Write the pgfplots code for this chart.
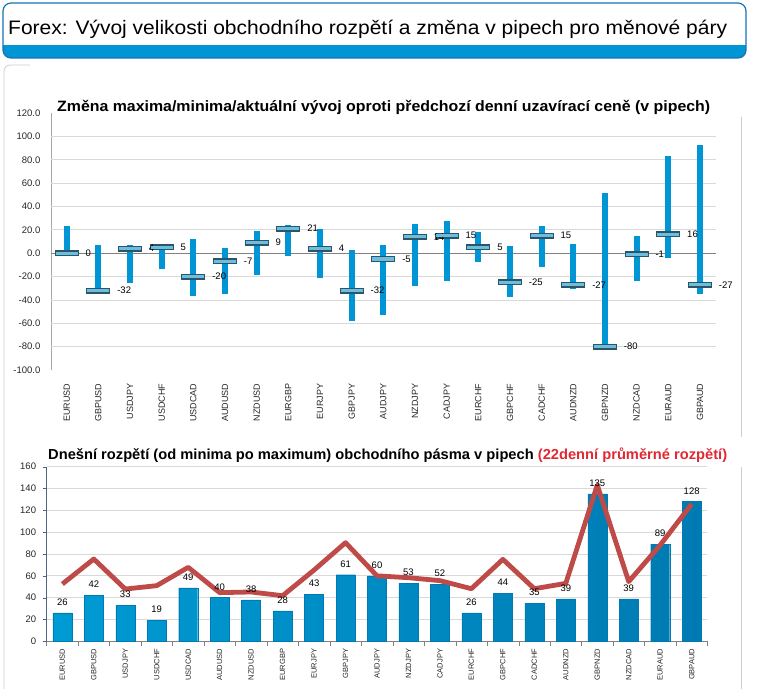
\documentclass[border=0pt]{standalone}
\usepackage{pgfplots}
\pgfplotsset{compat=1.18}
\usepackage{pgfplotstable}
\usepackage{fontspec}
\setmainfont{Liberation Sans}

\definecolor{hdrblue}{RGB}{0,150,214}
\definecolor{hdrline}{RGB}{20,115,180}
\definecolor{rangeblue}{RGB}{0,150,214}
\definecolor{markdark}{RGB}{45,85,100}
\definecolor{marklight}{RGB}{105,190,225}
\definecolor{barL}{RGB}{0,155,212}
\definecolor{barM}{RGB}{35,188,236}
\definecolor{barR}{RGB}{0,122,178}
\definecolor{avgred}{RGB}{190,75,72}
\definecolor{titlered}{RGB}{225,40,50}
\definecolor{gridgray}{RGB}{217,217,217}
\definecolor{zerogray}{RGB}{130,130,130}
\definecolor{framegray}{RGB}{205,205,205}
\definecolor{yaxisblue}{RGB}{80,100,130}

% squeeze a line of text to a given width, font size unchanged
\newsavebox\fitbox
\newdimen\fitw
\newcommand\fitto[2]{\sbox\fitbox{#2}\fitw=\wd\fitbox
  \pgfmathsetmacro\fitsx{#1/\fitw}\scalebox{\fitsx}[1]{\usebox\fitbox}}

% high / low against the previous close, and the current change (pips)
\pgfplotstableread{
x high low cur
0 23.1 -2.8 0
1 7.0 -35.2 -32
2 7.0 -25.9 4
3 6.0 -13.2 5
4 12.4 -36.6 -20
5 4.8 -35.2 -7
6 18.9 -18.9 9
7 23.9 -2.8 21
8 20.6 -21.4 4
9 2.8 -57.7 -32
10 7.0 -52.7 -5
11 24.8 -28.2 14
12 27.3 -23.9 15
13 18.0 -7.9 5
14 6.2 -37.5 -25
15 23.1 -12.1 15
16 7.9 -30.4 -27
17 51.3 -82.5 -80
18 14.6 -23.9 -1
19 83.4 -4.5 16
20 92.7 -34.6 -27
}\rangedata

% today's range and the 22-day average range
\pgfplotstableread{
x range avg
0 26 52.5
1 42 75.4
2 33 47.9
3 19 51.0
4 49 67.8
5 40 44.6
6 38 45.2
7 28 41.8
8 43 65.3
9 61 90.4
10 60 60.0
11 53 58.3
12 52 55.6
13 26 48.2
14 44 75.1
15 35 48.2
16 39 53.1
17 135 143.2
18 39 54.7
19 89 88.2
20 128 125.8
}\spreaddata

\def\pairs{EURUSD,GBPUSD,USDJPY,USDCHF,USDCAD,AUDUSD,NZDUSD,EURGBP,EURJPY,GBPJPY,AUDJPY,NZDJPY,CADJPY,EURCHF,GBPCHF,CADCHF,AUDNZD,GBPNZD,NZDCAD,EURAUD,GBPAUD}

\begin{document}
\begin{tikzpicture}[x=1pt,y=1pt]
\useasboundingbox (0,0) rectangle (758,-689);

% header box
\begin{scope}
  \clip[rounded corners=8pt] (3,-3) rectangle (746,-58);
  \fill[white] (3,-3) rectangle (746,-45);
  \fill[hdrblue] (3,-45) rectangle (746,-58);
\end{scope}
\draw[hdrline, line width=1.2pt, rounded corners=8pt] (3,-3) rectangle (746,-58);
\node[anchor=base west, inner sep=0] at (8,-34.3)
  {\fontsize{19.5}{22}\selectfont\fitto{719pt}{Forex: Vývoj velikosti obchodního rozpětí a změna v pipech pro měnové páry}};

% panel frame
\draw[framegray, line width=0.8pt, rounded corners=6pt] (4,-689) -- (4,-65) -- (30,-65);
\draw[framegray, line width=0.8pt] (741,-117) -- (741,-437);
\draw[framegray, line width=0.8pt] (741,-467) -- (741,-689);

% chart titles
\node[anchor=base west, inner sep=0] at (57,-111.5)
  {\fontsize{15}{18}\selectfont\bfseries\fitto{653pt}{Změna maxima/minima/aktuální vývoj oproti předchozí denní uzavírací ceně (v pipech)}};
\node[anchor=base west, inner sep=0] at (48,-459.3)
  {\fontsize{14.5}{17}\selectfont\bfseries\fitto{679pt}{Dnešní rozpětí (od minima po maximum) obchodního pásma v pipech \textcolor{titlered}{(22denní průměrné rozpětí)}}};

% upper chart: range bars with current change
\begin{axis}[
    at={(50.9pt,-370pt)}, anchor=south west,
    scale only axis, width=664.9pt, height=257pt,
    xmin=-0.5, xmax=20.5, ymin=-100, ymax=120,
    clip=false,
    axis lines*=left, axis line style={-},
    x axis line style={draw=none},
    y axis line style={draw=zerogray!70},
    major tick length=0pt,
    ytick={-100,-80,-60,-40,-20,0,20,40,60,80,100,120},
    extra y ticks={-80,-60,-40,-20,20,40,60,80,100},
    extra y tick labels={},
    extra y tick style={ymajorgrids=true, grid style={gridgray, line width=0.8pt}},
    /pgf/number format/assume math mode=true,
    y tick label style={/pgf/number format/fixed, /pgf/number format/fixed zerofill,
      /pgf/number format/precision=1,
      font=\fontsize{9.5}{10}\selectfont, text=black!85},
    yticklabel shift=7pt,
    xtick={0,...,20},
    xticklabels/.expanded={\pairs},
    x tick label style={rotate=90, anchor=east, font=\fontsize{9}{10}\selectfont, text=black!85},
    xticklabel shift=10pt,
  ]
  \draw[zerogray, line width=0.9pt] (axis cs:-0.5,0) -- (axis cs:20.5,0);
  \addplot[draw=none, mark=none, forget plot,
    error bars/.cd, y dir=plus, y explicit, error mark=none,
    error bar style={line width=6pt, draw=rangeblue}]
    table[x=x, y=low, y error expr=\thisrow{high}-\thisrow{low}] {\rangedata};
  \addplot[only marks, mark=-, mark size=12pt,
    mark options={line width=6pt, draw=markdark}]
    table[x=x, y=cur] {\rangedata};
  \addplot[only marks, mark=-, mark size=11pt,
    mark options={line width=3.2pt, draw=marklight},
    nodes near coords={\pgfmathprintnumber[assume math mode=true]{\pgfplotspointmeta}},
    nodes near coords style={anchor=west, xshift=14pt, font=\fontsize{9.5}{10}\selectfont, text=black}]
    table[x=x, y=cur] {\rangedata};
\end{axis}

% lower chart: today's range and 22-day average
\begin{axis}[
    at={(46.6pt,-641.3pt)}, anchor=south west,
    scale only axis, width=660.8pt, height=174.6pt,
    xmin=-0.5, xmax=20.5, ymin=0, ymax=160,
    clip=false,
    axis lines*=left, axis line style={-},
    x axis line style={draw=zerogray},
    y axis line style={draw=yaxisblue},
    tick align=outside,
    major tick length=4pt, minor tick length=5pt,
    ytick={0,20,40,60,80,100,120,140,160},
    ymajorgrids, grid style={gridgray, line width=0.8pt},
    y tick style={draw=yaxisblue},
    /pgf/number format/assume math mode=true,
    y tick label style={font=\fontsize{9.5}{10}\selectfont, text=black!85},
    yticklabel shift=3pt,
    xtick={0,...,20},
    xticklabels/.expanded={\pairs},
    major x tick style={draw=none},
    minor xtick={-0.5,0.5,...,20.5},
    minor x tick style={draw=zerogray},
    x tick label style={rotate=90, anchor=east, font=\fontsize{7.5}{8}\selectfont, text=black!85},
  ]
  \addplot[ybar, bar width=19pt, bar shift=0pt, draw=barR,
    left color=barL, middle color=barM, right color=barR]
    table[x=x, y=range] {\spreaddata};
  \addplot[avgred, line width=4.8pt, line join=round, mark=none]
    table[x=x, y=avg] {\spreaddata};
  \addplot[draw=none, mark=none,
    nodes near coords={\pgfmathprintnumber[assume math mode=true]{\pgfplotspointmeta}},
    nodes near coords style={anchor=south, yshift=4pt, font=\fontsize{9.5}{10}\selectfont, text=black}]
    table[x=x, y=range] {\spreaddata};
\end{axis}
\end{tikzpicture}
\end{document}
